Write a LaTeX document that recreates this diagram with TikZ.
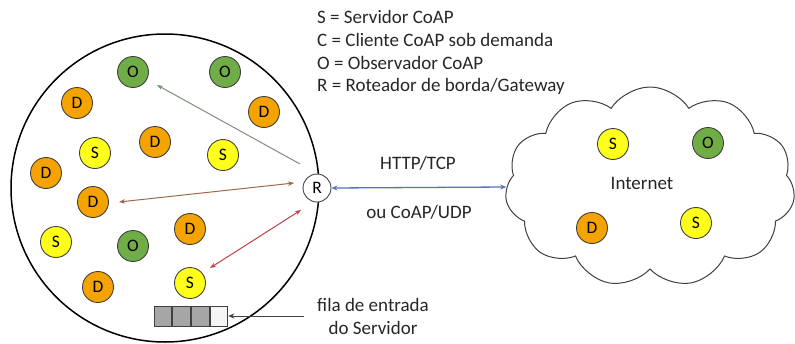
\documentclass[tikz,border=0pt]{standalone}
\usepackage{fontspec}
\setmainfont{Carlito}
\usetikzlibrary{arrows.meta,shapes.symbols}
\definecolor{gfill}{HTML}{70AD47}
\definecolor{ofill}{HTML}{F5A300}
\definecolor{yfill}{HTML}{FFFF1A}
\definecolor{edge}{HTML}{404040}
\definecolor{arrgreen}{HTML}{7F8F7A}
\definecolor{arrbrown}{HTML}{A0684A}
\definecolor{arrred}{HTML}{C0404A}
\definecolor{arrblue}{HTML}{5B73B8}
\tikzset{
  dev/.style={circle,draw=edge,line width=0.9pt,minimum size=31pt,inner sep=0pt,font=\fontsize{17.5}{17.5}\selectfont},
  srv/.style={dev,fill=yfill},
  obs/.style={dev,fill=gfill},
  dem/.style={dev,fill=ofill},
  rtr/.style={circle,draw=edge,line width=0.9pt,fill=white,minimum size=28pt,inner sep=0pt,font=\fontsize{17.5}{17.5}\selectfont},
  lbl/.style={font=\fontsize{19}{19}\selectfont,inner sep=0pt,text=black!85},
  cell/.style={draw=edge,line width=0.9pt,minimum width=17.75pt,minimum height=20pt,inner sep=0pt}
}
\begin{document}
\begin{tikzpicture}[x=1pt,y=-1pt]
\useasboundingbox (0,0) rectangle (795,343);
% big circle
\draw[line width=1.5pt] (165,188) circle (154);
% cloud
\node[cloud,draw=edge,line width=1pt,cloud puffs=11,cloud puff arc=115,cloud ignores aspect,minimum width=290pt,minimum height=200pt,fill=white] (cloud) at (650,187) {};
% legend
\node[lbl,anchor=west] (l1) at (317,17) {S = Servidor CoAP};
\node[lbl,anchor=west] (l2) at (317,40) {C = Cliente CoAP sob demanda};
\node[lbl,anchor=west] (l3) at (317,63) {O = Observador CoAP};
\node[lbl,anchor=west] (l4) at (317,86) {R = Roteador de borda/Gateway};
% devices
\node[obs] (o1) at (133,72) {O};
\node[obs] (o2) at (225,72) {O};
\node[dem] (d1) at (77,103) {D};
\node[dem] (d2) at (264,112) {D};
\node[srv] (s1) at (95,153) {S};
\node[dem] (d3) at (155,142) {D};
\node[srv] (s2) at (223,155) {S};
\node[dem] (d4) at (46,173) {D};
\node[dem] (d5) at (93,202) {D};
\node[dem] (d6) at (190,229) {D};
\node[srv] (s3) at (56,242) {S};
\node[obs] (o3) at (133,246) {O};
\node[dem] (d7) at (98,287) {D};
\node[srv] (s4) at (190,283) {S};
\node[rtr] (r) at (317,188) {R};
% queue
\node[cell,fill=gray!70] (q1) at (163,316) {};
\node[cell,fill=gray!70,anchor=west] (q2) at (q1.east) {};
\node[cell,fill=gray!70,anchor=west] (q3) at (q2.east) {};
\node[cell,fill=gray!8,anchor=west] (q4) at (q3.east) {};
\coordinate (qs) at (304,316);
\draw[line width=0.9pt,edge,-{Stealth[length=6pt,width=5pt]}] (qs) -- (q4.east);
\node[lbl,anchor=center] (f1) at (373,305) {fila de entrada};
\node[lbl,anchor=center] (f2) at (373,328) {do Servidor};
% arrows inside
\coordinate (ga) at (300,164);
\coordinate (gb) at (157,85);
\draw[arrgreen,line width=1pt,-{Stealth[length=6pt,width=4.5pt]}] (ga) -- (gb);
\coordinate (ba) at (119,202);
\coordinate (bb) at (294,183);
\draw[arrbrown,line width=1pt,{Stealth[length=6pt,width=4.5pt]}-{Stealth[length=6pt,width=4.5pt]}] (ba) -- (bb);
\coordinate (ra) at (210,268);
\coordinate (rb) at (301,210);
\draw[arrred,line width=1pt,{Stealth[length=6pt,width=4.5pt]}-{Stealth[length=6pt,width=4.5pt]}] (ra) -- (rb);
% link to internet
\draw[arrblue,line width=1.3pt,{Stealth[length=6pt,width=5pt]}-{Stealth[length=6pt,width=5pt]}] (r.east) -- (cloud.west);
\node[lbl] (h1) at (418,163) {HTTP/TCP};
\node[lbl] (h2) at (419,212) {ou CoAP/UDP};
% cloud contents
\node[srv] (cs1) at (613,144) {S};
\node[obs] (co1) at (708,143) {O};
\node[lbl] (inet) at (642,183) {Internet};
\node[dem] (cd1) at (592,228) {D};
\node[srv] (cs2) at (696,223) {S};
\end{tikzpicture}
\end{document}
